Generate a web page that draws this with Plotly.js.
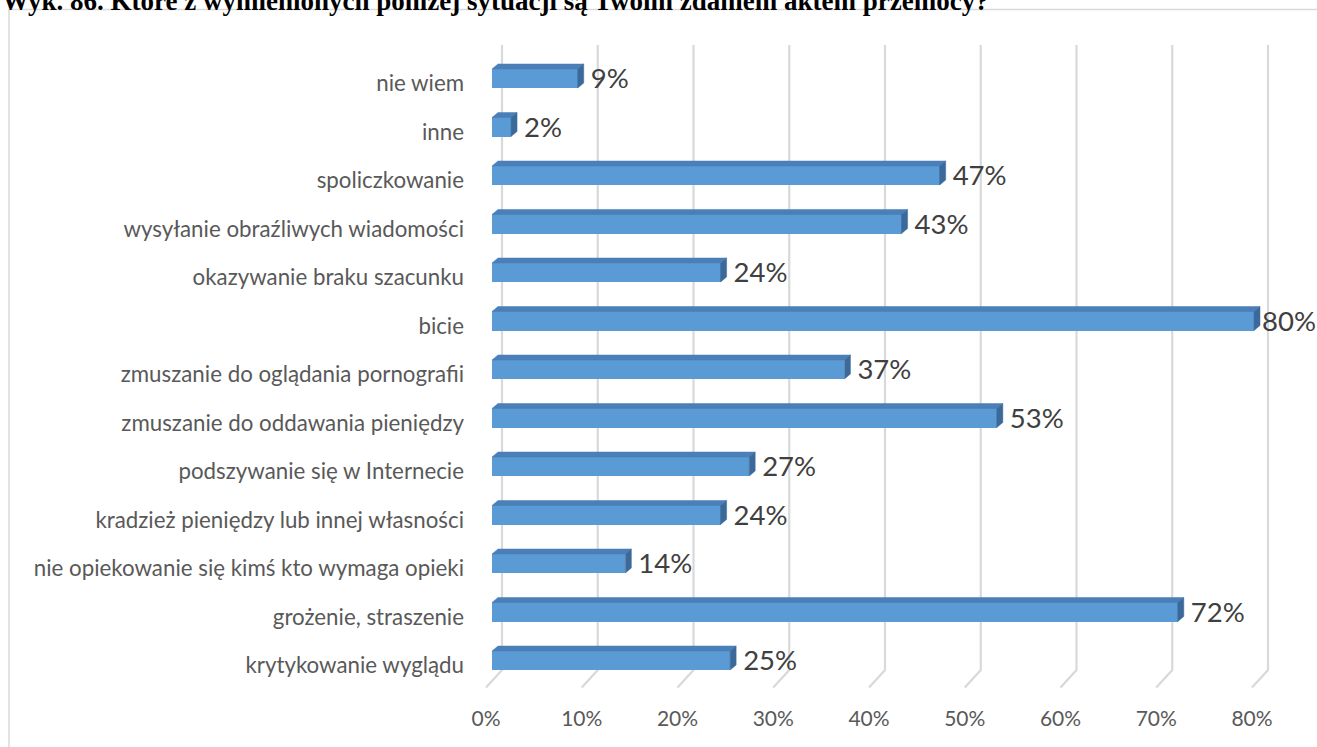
<!DOCTYPE html>
<html>
<head>
<meta charset="utf-8">
<script src="https://cdn.plot.ly/plotly-3.0.1.min.js"></script>
<style>html,body{margin:0;padding:0;background:#fff;}#chart{width:1317px;height:747px;}</style>
</head>
<body>
<div id="chart"></div>
<script>
// ---- data ----
const categories = [
  "krytykowanie wyglądu",
  "grożenie, straszenie",
  "nie opiekowanie się kimś kto wymaga opieki",
  "kradzież pieniędzy lub innej własności",
  "podszywanie się w Internecie",
  "zmuszanie do oddawania pieniędzy",
  "zmuszanie do oglądania pornografii",
  "bicie",
  "okazywanie braku szacunku",
  "wysyłanie obraźliwych wiadomości",
  "spoliczkowanie",
  "inne",
  "nie wiem"
];
const values = [25, 72, 14, 24, 27, 53, 37, 80, 24, 43, 47, 2, 9];
const tickValues = [0, 10, 20, 30, 40, 50, 60, 70, 80];
const tickLabels = ["0%", "10%", "20%", "30%", "40%", "50%", "60%", "70%", "80%"];
const titleText = "Wyk. 86. Które z wymienionych poniżej sytuacji są Twoim zdaniem aktem przemocy?";

// ---- geometry ----
const W = 1317, H = 747;
const L = 482, R = 17, T = 45, B = 59;
const plotW = W - L - R, plotH = H - T - B;
// back wall axis (gridlines / ticks)
const pxX = 9.575, x0px = 502;
const xMin = (L - x0px) / pxX, xMax = (W - R - x0px) / pxX;
// front plane axis (bars)
const pxX2 = 9.525, x0px2 = 492;
const x2Min = (L - x0px2) / pxX2, x2Max = (W - R - x0px2) / pxX2;
const pxY = 48.5;
const yTop = 12 + (78.5 - T) / pxY;
const yBot = -(H - B - 660.5) / pxY;
const barH = 0.392;                       // front face height
const dX = 6 / pxX2, dY = 5 / pxY;        // 3D depth offsets
const gridBottom = -(670 - 660.5) / pxY;
const floorDX = -16 / pxX;
const labelGap = 7 / pxX2;
const labelMax = (1262 - x0px2) / pxX2;

const idx = categories.map((_, i) => i);

// gridlines with floor (as shapes below the bars)
const gridShapes = tickValues.map(t => ({
  type: 'path', xref: 'x', yref: 'y', layer: 'below',
  path: 'M' + t + ',' + yTop + ' L' + t + ',' + gridBottom + ' L' + (t + floorDX) + ',' + (yBot + 0.01),
  line: {color: '#d9d9d9', width: 2.2}
}));

const traces = [];
// front faces
traces.push({
  type: 'bar', orientation: 'h', x: values, y: idx, xaxis: 'x2',
  width: barH, marker: {color: '#5b9bd5', line: {width: 0}},
  hoverinfo: 'skip', showlegend: false
});
// top and side faces
const tx = [], ty = [];
const sx = [], sy = [];
idx.forEach(i => {
  const v = values[i];
  const yt = i + barH / 2, yb = i - barH / 2;
  tx.push(0, dX, v + dX, v, 0, null);
  ty.push(yt, yt + dY, yt + dY, yt, yt, null);
  sx.push(v, v + dX, v + dX, v, v, null);
  sy.push(yt, yt + dY, yb + dY, yb, yt, null);
});
traces.push({
  type: 'scatter', mode: 'lines', x: tx, y: ty, xaxis: 'x2', fill: 'toself',
  fillcolor: '#4a7fb8', line: {color: '#4a7fb8', width: 0.5},
  hoverinfo: 'skip', showlegend: false
});
traces.push({
  type: 'scatter', mode: 'lines', x: sx, y: sy, xaxis: 'x2', fill: 'toself',
  fillcolor: '#3b6a9a', line: {color: '#3b6a9a', width: 0.5},
  hoverinfo: 'skip', showlegend: false
});
// data labels
traces.push({
  type: 'scatter', mode: 'text', xaxis: 'x2',
  x: values.map(v => Math.min(v + dX + labelGap, labelMax)), y: idx.map(i => i - 0.06),
  text: values.map(v => v + '%'), textposition: 'middle right',
  textfont: {family: 'Lato, sans-serif', size: 27.5, color: '#404040'},
  cliponaxis: false, hoverinfo: 'skip', showlegend: false
});

const layout = {
  width: W, height: H,
  margin: {l: L, r: R, t: T, b: B, pad: 0},
  paper_bgcolor: '#ffffff', plot_bgcolor: 'rgba(0,0,0,0)',
  showlegend: false,
  bargap: 0,
  xaxis: {
    range: [xMin, xMax], showgrid: false, zeroline: false, showline: false,
    tickvals: tickValues, ticktext: tickLabels, ticks: '',
    ticklabelshift: -16, ticklabelstandoff: 16,
    tickfont: {family: 'Lato, sans-serif', size: 21, color: '#595959'},
    fixedrange: true
  },
  xaxis2: {
    range: [x2Min, x2Max], overlaying: 'x', anchor: 'y', visible: false,
    fixedrange: true
  },
  yaxis: {
    range: [yBot, yTop], showgrid: false, zeroline: false, showline: false,
    tickvals: idx, ticktext: categories, ticks: '', ticklabelstandoff: 17,
    ticklabelshift: 5,
    tickfont: {family: 'Lato, sans-serif', size: 22.3, color: '#595959'},
    fixedrange: true
  },
  shapes: [{
    type: 'rect', xref: 'paper', yref: 'paper',
    x0: (9 - L) / plotW, x1: (1330 - L) / plotW,
    y0: -(B + 20) / plotH,
    y1: 1 + (T - 9.5) / plotH,
    line: {color: '#d9d9d9', width: 1.5}, fillcolor: 'rgba(0,0,0,0)', layer: 'below'
  }].concat(gridShapes),
  annotations: [{
    text: '<b>' + titleText + '</b>', xref: 'paper', yref: 'paper',
    x: (0 - L) / plotW, y: 1 + (T - 0.5) / plotH,
    xanchor: 'left', yanchor: 'middle', showarrow: false,
    font: {family: 'Liberation Serif, serif', size: 27, color: '#000000'}
  }]
};

Plotly.newPlot('chart', traces, layout, {displayModeBar: false, staticPlot: true});
</script>
</body>
</html>
